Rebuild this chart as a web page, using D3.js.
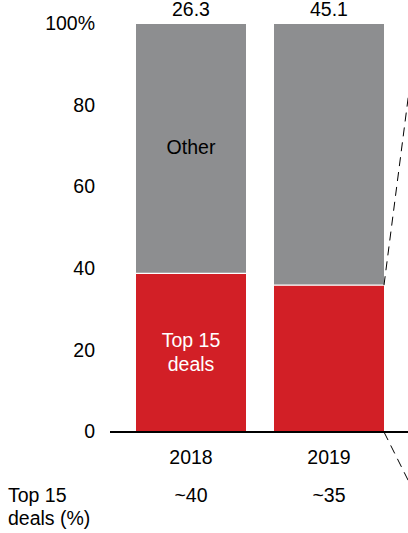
<!DOCTYPE html>
<html>
<head>
<meta charset="utf-8">
<script src="https://cdn.jsdelivr.net/npm/d3@7"></script>
<style>
  html, body { margin: 0; padding: 0; background: #fff; }
  svg { display: block; font-family: "Liberation Sans", Arial, sans-serif; }
</style>
</head>
<body>
<svg id="chart" width="408" height="533"></svg>
<script>
// Share of deal value: top 15 deals vs. the rest, by year
const years = ["2018", "2019"];
const top15Share = [38.9, 36.0];
const totals = ["26.3", "45.1"];
const approxTop15 = ["~40", "~35"];
const yTicks = [0, 20, 40, 60, 80, 100];

const red = "#d21f26";
const grey = "#8d8e90";

const svg = d3.select("#chart");
const margin = { left: 110, top: 24, bottom: 101 };
const plotBottom = 533 - margin.bottom;

const y = d3.scaleLinear().domain([0, 100]).range([plotBottom, margin.top]);
const x = d3.scaleBand().domain(years).range([136, 384]).paddingInner(28 / 138).paddingOuter(0);

const stacks = years.map((yr, i) => ({
  year: yr,
  segments: [
    { key: "top", y0: 0, y1: top15Share[i], color: red },
    { key: "other", y0: top15Share[i], y1: 100, color: grey }
  ]
}));

// Bars
const g = svg.append("g");
stacks.forEach(s => {
  g.selectAll(null).data(s.segments).enter().append("rect")
    .attr("x", x(s.year))
    .attr("width", x.bandwidth())
    .attr("y", d => y(d.y1))
    .attr("height", d => y(d.y0) - y(d.y1))
    .attr("fill", d => d.color);
  // thin white divider between segments
  g.append("line")
    .attr("x1", x(s.year)).attr("x2", x(s.year) + x.bandwidth())
    .attr("y1", y(s.segments[0].y1)).attr("y2", y(s.segments[0].y1))
    .attr("stroke", "#fff").attr("stroke-width", 1.2);
});

// Dashed zoom connectors leading off to the right from the 2019 bar
const lastYear = years[years.length - 1];
const xr = x(lastYear) + x.bandwidth();
const slopeUp = 22.7 / 176;
const topY = y(top15Share[1]);
svg.append("line")
  .attr("x1", xr).attr("y1", topY)
  .attr("x2", xr + slopeUp * (topY - 60)).attr("y2", 60)
  .attr("stroke", "#000").attr("stroke-width", 1).attr("stroke-dasharray", "9,6");
svg.append("line")
  .attr("x1", xr).attr("y1", y(0))
  .attr("x2", xr + 40).attr("y2", y(0) + 80)
  .attr("stroke", "#000").attr("stroke-width", 1).attr("stroke-dasharray", "9,6");

// Baseline
svg.append("line")
  .attr("x1", margin.left).attr("x2", 408)
  .attr("y1", y(0)).attr("y2", y(0))
  .attr("stroke", "#000").attr("stroke-width", 2);

// Y axis labels
const fs = 19.5;
svg.append("g").selectAll("text").data(yTicks).enter().append("text")
  .attr("x", 95)
  .attr("y", d => y(d))
  .attr("dy", "0.32em")
  .attr("text-anchor", "end")
  .attr("font-size", fs)
  .attr("fill", "#000")
  .text(d => d === 100 ? "100%" : d);

// Totals above bars
svg.append("g").selectAll("text").data(years).enter().append("text")
  .attr("x", d => x(d) + x.bandwidth() / 2)
  .attr("y", 16)
  .attr("text-anchor", "middle")
  .attr("font-size", fs)
  .text((d, i) => totals[i]);

// Year labels
svg.append("g").selectAll("text").data(years).enter().append("text")
  .attr("x", d => x(d) + x.bandwidth() / 2)
  .attr("y", 464)
  .attr("text-anchor", "middle")
  .attr("font-size", fs)
  .text(d => d);

// Segment labels inside the first bar
const first = years[0];
const cx = x(first) + x.bandwidth() / 2;
svg.append("text")
  .attr("x", cx).attr("y", y((top15Share[0] + 100) / 2) - 1).attr("dy", "0.35em")
  .attr("text-anchor", "middle").attr("font-size", fs).attr("fill", "#000")
  .text("Other");
svg.append("text")
  .attr("x", cx).attr("y", y(top15Share[0] / 2) - 12).attr("dy", "0.35em")
  .attr("text-anchor", "middle").attr("font-size", fs).attr("fill", "#fff")
  .text("Top 15");
svg.append("text")
  .attr("x", cx).attr("y", y(top15Share[0] / 2) + 12).attr("dy", "0.35em")
  .attr("text-anchor", "middle").attr("font-size", fs).attr("fill", "#fff")
  .text("deals");

// Bottom row: approximate top 15 share
svg.append("text").attr("x", 8).attr("y", 502).attr("font-size", fs).text("Top 15");
svg.append("text").attr("x", 8).attr("y", 525).attr("font-size", fs).text("deals (%)");
svg.append("g").selectAll("text").data(years).enter().append("text")
  .attr("x", d => x(d) + x.bandwidth() / 2)
  .attr("y", 502)
  .attr("text-anchor", "middle")
  .attr("font-size", fs)
  .text((d, i) => approxTop15[i]);
</script>
</body>
</html>
